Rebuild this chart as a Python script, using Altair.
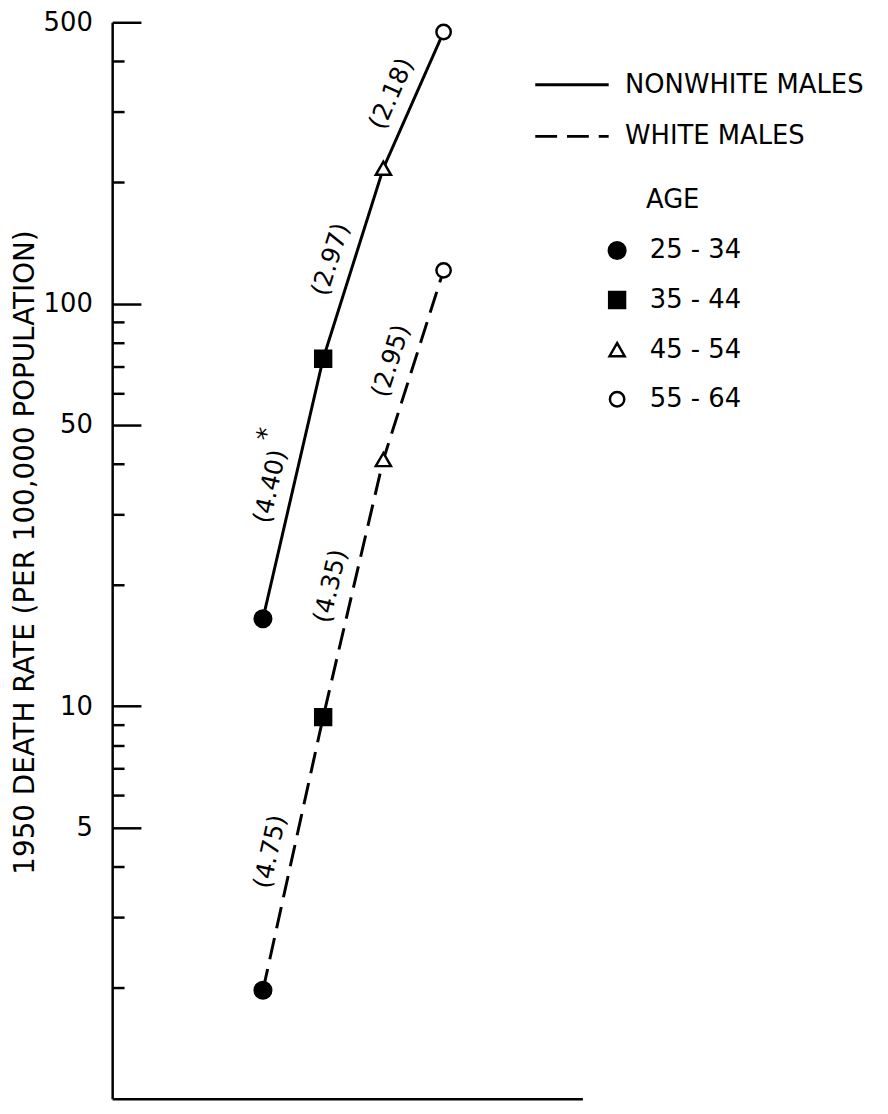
import math
import altair as alt
import pandas as pd

# ---------------- data ----------------
ages = ["25 - 34", "35 - 44", "45 - 54", "55 - 64"]
groups = ["NONWHITE MALES", "WHITE MALES"]
nonwhite_rates = [16.5, 73, 217, 473]
white_rates = [1.97, 9.4, 41, 121]
nonwhite_ratios = ["(4.40)", "(2.97)", "(2.18)"]
white_ratios = ["(4.75)", "(4.35)", "(2.95)"]
nonwhite_notes = ["*", "", ""]
white_notes = ["", "", ""]
major_ticks = [5, 10, 50, 100, 500]
minor_ticks = [2, 3, 4, 6, 7, 8, 9, 20, 30, 40, 60, 70, 80, 90, 200, 300, 400]
y_title = "1950 DEATH RATE (PER 100,000 POPULATION)"

# ---------------- layout / style ----------------
FONT = "DejaVu Sans"
PLOT_W, PLOT_H = 474, 1085
X_MIN, X_MAX = -1.504, 6.305
Y_MIN, Y_MAX = 1.06, 500

rows = []
for g, rates in zip(groups, [nonwhite_rates, white_rates]):
    for i, (a, r) in enumerate(zip(ages, rates)):
        rows.append(dict(group=g, age=a, pos=i + 1, rate=r))
df = pd.DataFrame(rows)

px_per_x = PLOT_W / (X_MAX - X_MIN)
px_per_dec = PLOT_H / math.log10(Y_MAX / Y_MIN)
lab = []
for g, rates, ratios, notes in zip(groups, [nonwhite_rates, white_rates],
                                   [nonwhite_ratios, white_ratios],
                                   [nonwhite_notes, white_notes]):
    for i in range(len(ratios)):
        r1, r2 = rates[i], rates[i + 1]
        ddx = px_per_x
        ddy = px_per_dec * math.log10(r2 / r1)
        ang = 360 - math.degrees(math.atan2(ddy, ddx))
        lab.append(dict(group=g, pos=i + 1.5, rate=math.sqrt(r1 * r2),
                        text=ratios[i], note=notes[i], angle=ang))
labdf = pd.DataFrame(lab)

xscale = alt.Scale(domain=[X_MIN, X_MAX], nice=False, zero=False)
yscale = alt.Scale(type="log", domain=[Y_MIN, Y_MAX], nice=False)

x_axis = alt.Axis(title=None, labels=False, ticks=False, grid=False,
                  domain=True, domainColor="black", domainWidth=2.5)
x_enc = alt.X("pos:Q", scale=xscale, axis=x_axis)

main_axis = alt.Axis(orient="left", values=major_ticks, format="d",
                     ticks=False, tickSize=0, labelPadding=20,
                     labelFont=FONT, labelFontSize=26, labelColor="black",
                     labelOverlap=False, grid=False,
                     domain=True, domainColor="black", domainWidth=2.5,
                     title=y_title, titleFont=FONT, titleFontSize=28,
                     titleFontWeight="normal", titleColor="black",
                     titleAngle=270, titleX=-87, titleY=534,
                     titleAlign="center", titleBaseline="middle")
major_axis = alt.Axis(orient="left", values=major_ticks, offset=-29,
                      tickSize=29, tickWidth=2.5, tickColor="black",
                      labels=False, domain=False, grid=False, title=None)
minor_axis = alt.Axis(orient="left", values=minor_ticks, offset=-12,
                      tickSize=12, tickWidth=2.5, tickColor="black",
                      labels=False, domain=False, grid=False, title=None)

line_legend = alt.Legend(orient="none", legendX=425, legendY=50, title=None,
                         symbolType="stroke", symbolSize=5476,
                         symbolStrokeWidth=3, symbolStrokeColor="black",
                         labelFont=FONT, labelFontSize=26, labelColor="black",
                         labelOffset=15, labelLimit=400, clipHeight=26,
                         rowPadding=26, padding=0)
shape_legend = alt.Legend(orient="none", legendX=496, legendY=166, title="AGE",
                          titleFont=FONT, titleFontSize=26,
                          titleFontWeight="normal", titleColor="black",
                          titleAnchor="middle", titlePadding=25,
                          symbolStrokeColor="black", symbolStrokeWidth=2.5,
                          labelFont=FONT, labelFontSize=26, labelColor="black",
                          labelOffset=20, labelLimit=400, clipHeight=26,
                          rowPadding=24, padding=0)

lines = alt.Chart(df).mark_line(strokeWidth=3, color="black").encode(
    x=x_enc,
    y=alt.Y("rate:Q", scale=yscale, axis=main_axis),
    strokeDash=alt.StrokeDash("group:N",
                              scale=alt.Scale(domain=groups, range=[[1, 0], [22, 10]]),
                              legend=line_legend),
    detail="group:N",
    order="pos:Q",
)

points = alt.Chart(df).mark_point(filled=False, strokeWidth=2.5, opacity=1).encode(
    x=x_enc,
    y=alt.Y("rate:Q", scale=yscale, axis=major_axis),
    shape=alt.Shape("age:N", scale=alt.Scale(domain=ages,
                    range=["circle", "square", "triangle-up", "circle"]),
                    legend=shape_legend),
    fill=alt.Fill("age:N", scale=alt.Scale(domain=ages,
                  range=["black", "black", "white", "white"]),
                  legend=shape_legend),
    stroke=alt.Stroke("age:N", scale=alt.Scale(domain=ages,
                      range=["black", "black", "black", "black"]),
                      legend=shape_legend),
    size=alt.Size("age:N", scale=alt.Scale(domain=ages,
                  range=[280, 210, 430, 190]), legend=shape_legend),
)

labels = alt.Chart(labdf).mark_text(align="center", baseline="middle",
                                    dx=-3, dy=-23, font=FONT, fontSize=25,
                                    color="black").encode(
    x=x_enc,
    y=alt.Y("rate:Q", scale=yscale, axis=minor_axis),
    text="text:N",
    angle=alt.Angle("angle:Q", scale=None),
)

notes = alt.Chart(labdf).transform_filter("datum.note != ''").mark_text(
    align="center", baseline="middle", dx=47, dy=-38, font=FONT, fontSize=26,
    color="black").encode(
    x=x_enc,
    y=alt.Y("rate:Q", scale=yscale, axis=None),
    text="note:N",
    angle=alt.Angle("angle:Q", scale=None),
)

chart = alt.layer(lines, points, labels, notes).resolve_axis(
    y="independent"
).properties(
    width=PLOT_W, height=PLOT_H,
    autosize=alt.AutoSizeParams(type="none"),
    padding={"left": 105, "top": 10, "right": 300, "bottom": 2},
).configure_view(stroke=None)

chart.save("out.html", embed_options={"renderer": "svg", "actions": False})
